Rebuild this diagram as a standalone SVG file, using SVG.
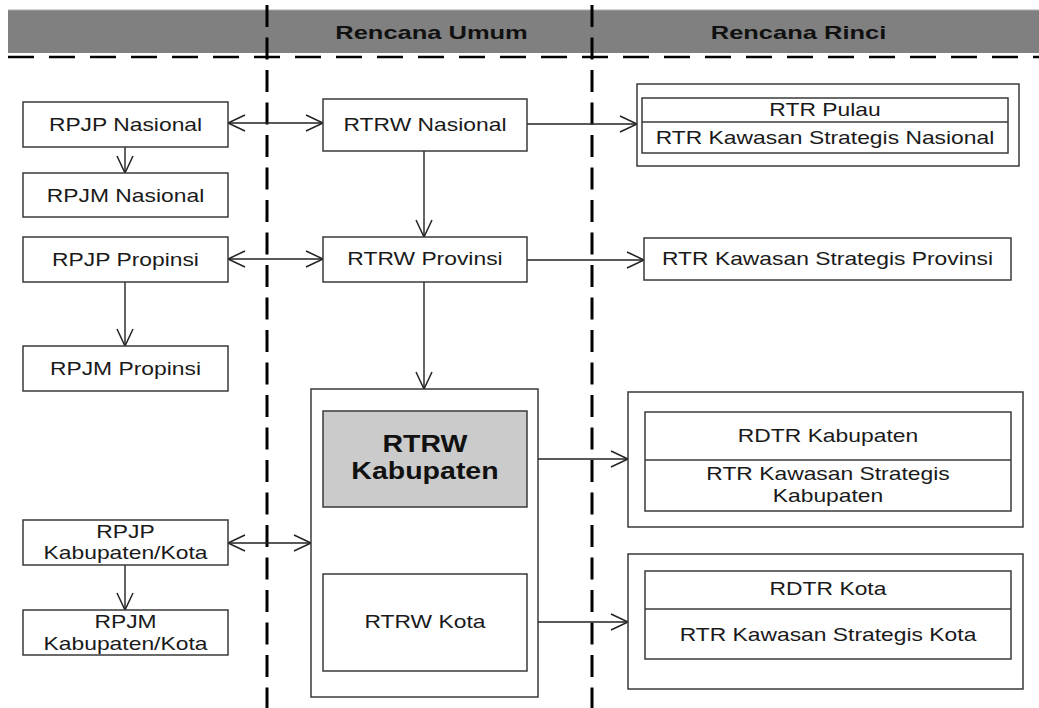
<svg xmlns="http://www.w3.org/2000/svg" width="1039" height="708" viewBox="0 0 1039 708">
<defs>
<style>
.box{fill:#fff;stroke:#3a3a3a;stroke-width:1.5}
.gbox{fill:#cbcbcb;stroke:#3a3a3a;stroke-width:1.5}
.div{stroke:#3a3a3a;stroke-width:1.5}
.t{font-family:"Liberation Sans",Arial,sans-serif;font-size:18px;fill:#1a1a1a;text-anchor:middle}
.hb{font-family:"Liberation Sans",Arial,sans-serif;font-size:18.6px;font-weight:bold;fill:#111;text-anchor:middle}
.kb{font-family:"Liberation Sans",Arial,sans-serif;font-size:23px;font-weight:bold;fill:#111;text-anchor:middle}
.c{stroke:#222;stroke-width:1.4;fill:none}
.dv{stroke:#000;stroke-width:3;stroke-dasharray:22 10.5}
.dh{stroke:#000;stroke-width:2.6;stroke-dasharray:26 15}
</style>
<marker id="ah" markerUnits="userSpaceOnUse" markerWidth="22" markerHeight="22" viewBox="-19 -11 22 22" refX="0" refY="0" orient="auto-start-reverse">
<path d="M-17,-8 L0,0 L-17,8" fill="none" stroke="#222" stroke-width="1.5"/>
</marker>
</defs>
<rect width="1039" height="708" fill="#fff"/>
<g id="header">
<rect x="8" y="10" width="1031" height="43" fill="#808080"/>
<line x1="8" y1="10" x2="1039" y2="10" stroke="#aaa" stroke-width="1"/>
<text class="hb" transform="translate(431.5,39) scale(1.37,1)">Rencana Umum</text>
<text class="hb" transform="translate(798.5,39) scale(1.37,1)">Rencana Rinci</text>
</g>
<g id="dividers">
<line class="dh" x1="8" y1="57" x2="1039" y2="57"/>
<line class="dv" x1="267" y1="5" x2="267" y2="708"/>
<line class="dv" x1="592" y1="5" x2="592" y2="708"/>
</g>
<g id="connectors">
<line class="c" x1="228" y1="123" x2="323" y2="123" marker-start="url(#ah)" marker-end="url(#ah)"/>
<line class="c" x1="125" y1="147" x2="125" y2="173" marker-end="url(#ah)"/>
<line class="c" x1="228" y1="259" x2="323" y2="259" marker-start="url(#ah)" marker-end="url(#ah)"/>
<line class="c" x1="125" y1="282" x2="125" y2="346" marker-end="url(#ah)"/>
<line class="c" x1="424" y1="151" x2="424" y2="237" marker-end="url(#ah)"/>
<line class="c" x1="424" y1="282" x2="424" y2="389" marker-end="url(#ah)"/>
<line class="c" x1="527" y1="124" x2="637" y2="124" marker-end="url(#ah)"/>
<line class="c" x1="527" y1="260" x2="644" y2="260" marker-end="url(#ah)"/>
<line class="c" x1="228" y1="543" x2="311" y2="543" marker-start="url(#ah)" marker-end="url(#ah)"/>
<line class="c" x1="125" y1="565" x2="125" y2="610" marker-end="url(#ah)"/>
<line class="c" x1="527" y1="459" x2="628" y2="459" marker-end="url(#ah)"/>
<line class="c" x1="527" y1="622" x2="628" y2="622" marker-end="url(#ah)"/>
</g>
<g id="rpjp-nasional">
<rect class="box" x="23" y="102" width="205" height="45"/>
<text class="t" transform="translate(125.5,131) scale(1.27,1)">RPJP Nasional</text>
</g>
<g id="rpjm-nasional">
<rect class="box" x="23" y="173" width="205" height="44"/>
<text class="t" transform="translate(125.5,201.5) scale(1.27,1)">RPJM Nasional</text>
</g>
<g id="rpjp-propinsi">
<rect class="box" x="23" y="237" width="205" height="45"/>
<text class="t" transform="translate(125.5,266) scale(1.27,1)">RPJP Propinsi</text>
</g>
<g id="rpjm-propinsi">
<rect class="box" x="23" y="346" width="205" height="45"/>
<text class="t" transform="translate(125.5,375) scale(1.27,1)">RPJM Propinsi</text>
</g>
<g id="rpjp-kabkota">
<rect class="box" x="23" y="520" width="205" height="45"/>
<text class="t" transform="translate(125.5,537.5) scale(1.27,1)">RPJP</text>
<text class="t" transform="translate(125.5,559) scale(1.27,1)">Kabupaten/Kota</text>
</g>
<g id="rpjm-kabkota">
<rect class="box" x="23" y="610" width="205" height="45"/>
<text class="t" transform="translate(125.5,628) scale(1.27,1)">RPJM</text>
<text class="t" transform="translate(125.5,649.5) scale(1.27,1)">Kabupaten/Kota</text>
</g>
<g id="rtrw-nasional">
<rect class="box" x="323" y="99" width="204" height="52"/>
<text class="t" transform="translate(425,131) scale(1.27,1)">RTRW Nasional</text>
</g>
<g id="rtrw-provinsi">
<rect class="box" x="323" y="237" width="204" height="45"/>
<text class="t" transform="translate(425,265) scale(1.27,1)">RTRW Provinsi</text>
</g>
<g id="rtrw-kabkota-group">
<rect class="box" x="311" y="389" width="227" height="308"/>
</g>
<g id="rtrw-kabupaten">
<rect class="gbox" x="323" y="411" width="204" height="96"/>
<text class="kb" transform="translate(425,452) scale(1.24,1)">RTRW</text>
<text class="kb" transform="translate(425,479) scale(1.24,1)">Kabupaten</text>
</g>
<g id="rtrw-kota">
<rect class="box" x="323" y="574" width="204" height="97"/>
<text class="t" transform="translate(425,627.5) scale(1.27,1)">RTRW Kota</text>
</g>
<g id="rtr-nasional">
<rect class="box" x="637" y="84" width="382" height="82"/>
<rect class="box" x="642" y="98" width="366" height="55"/>
<line class="div" x1="642" y1="122" x2="1008" y2="122"/>
<text class="t" transform="translate(825,116) scale(1.27,1)">RTR Pulau</text>
<text class="t" transform="translate(825,144) scale(1.27,1)">RTR Kawasan Strategis Nasional</text>
</g>
<g id="rtr-ks-provinsi">
<rect class="box" x="644" y="238" width="367" height="42"/>
<text class="t" transform="translate(827.5,265) scale(1.27,1)">RTR Kawasan Strategis Provinsi</text>
</g>
<g id="rdtr-kabupaten">
<rect class="box" x="628" y="392" width="395" height="135"/>
<rect class="box" x="645" y="412" width="366" height="99"/>
<line class="div" x1="645" y1="460" x2="1011" y2="460"/>
<text class="t" transform="translate(828,441.5) scale(1.27,1)">RDTR Kabupaten</text>
<text class="t" transform="translate(828,480) scale(1.27,1)">RTR Kawasan Strategis</text>
<text class="t" transform="translate(828,501.5) scale(1.27,1)">Kabupaten</text>
</g>
<g id="rdtr-kota">
<rect class="box" x="628" y="554" width="395" height="135"/>
<rect class="box" x="645" y="571" width="366" height="88"/>
<line class="div" x1="645" y1="609" x2="1011" y2="609"/>
<text class="t" transform="translate(828,595) scale(1.27,1)">RDTR Kota</text>
<text class="t" transform="translate(828,640.5) scale(1.27,1)">RTR Kawasan Strategis Kota</text>
</g>
</svg>
